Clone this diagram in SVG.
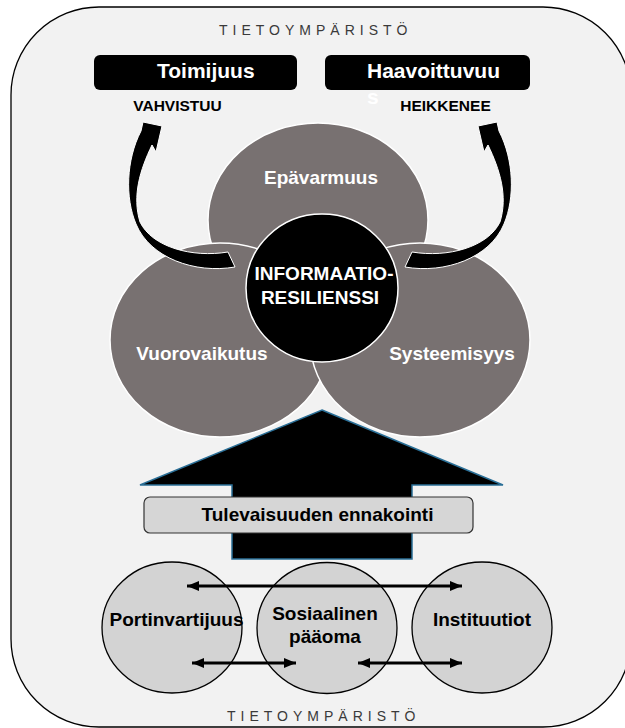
<svg xmlns="http://www.w3.org/2000/svg" width="625" height="728" viewBox="0 0 625 728">
<style>
.env{font-family:"Liberation Sans",Arial,sans-serif;font-size:14px;fill:#3a3a3a;letter-spacing:5px}
.b{font-family:"Liberation Sans",Arial,sans-serif;font-weight:bold}
.grey{fill:#787171;stroke:#ffffff;stroke-width:1.5}
.wl{fill:#ffffff;font-size:19px;text-anchor:middle}
.lo{fill:#d3d3d3;stroke:#000;stroke-width:1.3}
.bl{fill:#000;font-size:19px;text-anchor:middle}
.dbl{stroke:#000;stroke-width:3;fill:none;marker-start:url(#ah);marker-end:url(#ah)}
.curv{fill:#000;stroke:#fff;stroke-width:1}
</style>
<defs>
<marker id="ah" markerUnits="userSpaceOnUse" markerWidth="13" markerHeight="11" refX="12" refY="5" orient="auto-start-reverse" viewBox="0 0 13 10">
<path d="M0,0 L12,5 L0,10 Z" fill="#000"/>
</marker>
<path id="carrow" d="M235,267 C195,274 150,258 136,224 C125,198 126,160 141,131 L143,122 L162,126 L156,152 L152,145 C140,170 132,196 140,222 C152,247 192,258 228,252 Z"/>
</defs>
<g id="environment">
<rect x="11" y="7" width="620" height="720" rx="88" ry="88" fill="#f2f2f2" stroke="#000" stroke-width="1.3"/>
<text class="env" x="219" y="35">TIETOYMPÄRISTÖ</text>
<text class="env" x="227" y="721">TIETOYMPÄRISTÖ</text>
</g>
<g id="toimijuus">
<rect x="94" y="55" width="203" height="35" rx="6" fill="#000"/>
<text class="b" x="157" y="78" font-size="21" fill="#fff">Toimijuus</text>
<text class="b" x="177.5" y="111" font-size="15.5" fill="#000" text-anchor="middle">VAHVISTUU</text>
</g>
<g id="haavoittuvuus">
<rect x="325" y="55" width="205" height="35" rx="6" fill="#000"/>
<text class="b" x="367" y="78" font-size="21" fill="#fff">Haavoittuvuu</text>
<text class="b" x="367" y="104" font-size="21" fill="#fff">s</text>
<text class="b" x="445.5" y="111" font-size="15.5" fill="#000" text-anchor="middle">HEIKKENEE</text>
</g>
<g id="epavarmuus">
<ellipse class="grey" cx="318" cy="220" rx="110" ry="97"/>
<text class="b wl" x="321" y="184">Epävarmuus</text>
</g>
<g id="vuorovaikutus">
<ellipse class="grey" cx="220" cy="340" rx="110" ry="97"/>
<text class="b wl" x="202" y="360">Vuorovaikutus</text>
</g>
<g id="systeemisyys">
<ellipse class="grey" cx="420" cy="340" rx="110" ry="97"/>
<text class="b wl" x="452" y="360">Systeemisyys</text>
</g>
<g id="informaatioresilienssi">
<ellipse cx="322" cy="288" rx="76" ry="74" fill="#000" stroke="#fff" stroke-width="1.5"/>
<text class="b wl" x="324" y="280">INFORMAATIO-</text>
<text class="b wl" x="320" y="304">RESILIENSSI</text>
</g>
<g id="ennakointi">
<path d="M322,410 L503,485 L412,485 L412,559 L232,559 L232,485 L140,485 Z" fill="#000" stroke="#2a6f97" stroke-width="1.5"/>
<rect x="144" y="497" width="329" height="36" rx="6" fill="#d6d6d6" stroke="#333" stroke-width="1.2"/>
<text class="b bl" x="317.5" y="521" fill="#111">Tulevaisuuden ennakointi</text>
</g>
<g id="portinvartijuus">
<ellipse class="lo" cx="172" cy="627.5" rx="70" ry="65.5"/>
<text class="b bl" x="176.5" y="626">Portinvartijuus</text>
</g>
<g id="sosiaalinen">
<ellipse class="lo" cx="327" cy="628" rx="70" ry="65.5"/>
<text class="b bl" x="325" y="620">Sosiaalinen</text>
<text class="b bl" x="325" y="643">pääoma</text>
</g>
<g id="instituutiot">
<ellipse class="lo" cx="482" cy="627.5" rx="70" ry="65.5"/>
<text class="b bl" x="482" y="626">Instituutiot</text>
</g>
<g id="connectors">
<use href="#carrow" class="curv"/>
<use href="#carrow" class="curv" transform="translate(640,0) scale(-1,1)"/>
<line class="dbl" x1="187" y1="586" x2="462" y2="586"/>
<line class="dbl" x1="192" y1="663" x2="296" y2="663"/>
<line class="dbl" x1="358" y1="663" x2="462" y2="663"/>
</g>
</svg>
